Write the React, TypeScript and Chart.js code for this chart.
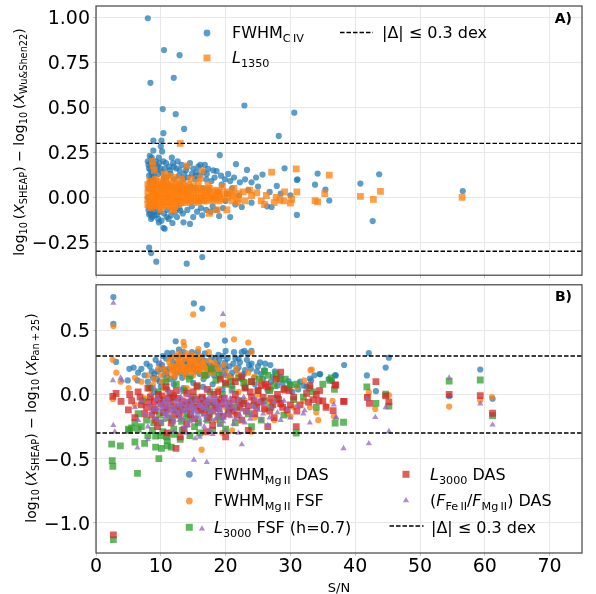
import { useEffect, useRef } from "react";
import { Chart, registerables } from "chart.js";

Chart.register(...registerables);

const FONT = '"DejaVu Sans", "Liberation Sans", sans-serif';

// ---------------- axes ----------------
const xTicks = [0, 10, 20, 30, 40, 50, 60, 70];
const xRange = [0, 75];
const yTicksA = [-0.25, 0, 0.25, 0.5, 0.75, 1.0];
const yRangeA = [-0.433, 1.063];
const yTicksB = [-1.0, -0.5, 0, 0.5];
const yRangeB = [-1.235, 0.855];
const threshold = 0.3;

// ---------------- panel A data ----------------
const fwhmCIV: [number, number][] = [
  [8.0, 0.995], [8.4, 0.636], [10.5, 0.818], [12.9, 0.79], [12.0, 0.664], [10.3, 0.49], [12.3, 0.462], [13.6, 0.38],
  [22.9, 0.51], [10.4, 0.356], [8.85, 0.315], [10.1, 0.315], [10.0, 0.283], [10.2, 0.255], [30.6, 0.47], [28.2, 0.341],
  [8.2, -0.28], [8.5, -0.31], [9.3, -0.358], [14.0, -0.369], [16.4, -0.332],
  [10.4, -0.17], [10.6, -0.175], [14.5, -0.148], [13.5, -0.139], [11.8, -0.143], [9.7, -0.14], [19.0, -0.104],
  [16.4, -0.1], [20.7, -0.11], [22.5, -0.054], [26.4, -0.05], [27.1, -0.054], [31.0, -0.098], [42.7, -0.132],
  [8.2, -0.095], [9.4, -0.095], [10.9, -0.11], [13.0, -0.074], [17.7, -0.08],
  [34.2, 0.132], [33.8, 0.07], [35.4, 0.043], [36.0, -0.018], [40.8, 0.076], [43.7, 0.128], [56.6, 0.035],
  [31.0, 0.096], [30.0, 0.011], [29.1, 0.161], [27.9, 0.063], [25.7, 0.126], [23.3, 0.152], [21.6, 0.184],
  [19.1, 0.234], [31.1, 0.1],
  [8.3, 0.23], [8.6, 0.22], [8.85, 0.26], [9.2, 0.2], [9.5, 0.17], [9.8, 0.19], [10.4, 0.2], [10.8, 0.19],
  [11.3, 0.17], [11.9, 0.19], [12.4, 0.16], [13.2, 0.18], [13.9, 0.15], [14.5, 0.19], [15.0, 0.16], [15.5, 0.14],
  [16.1, 0.18], [16.8, 0.18], [17.3, 0.158], [18.6, 0.145], [19.9, 0.1], [20.7, 0.09], [22.2, 0.083], [24.0, 0.083],
  [8.4, 0.15], [8.9, 0.12], [9.6, 0.13], [10.2, 0.14], [10.9, 0.11], [11.5, 0.13], [12.1, 0.1], [12.8, 0.12],
  [13.5, 0.1], [14.2, 0.11], [15.3, 0.1], [16.0, 0.12], [17.0, 0.1], [17.8, 0.09], [18.3, 0.11], [19.4, 0.07],
  [21.0, 0.05], [23.5, 0.04], [25.0, 0.06], [26.8, 0.03], [28.5, 0.02],
  [8.1, 0.05], [8.3, 0.08], [8.7, 0.06], [9.0, 0.09], [9.4, 0.07], [9.9, 0.06], [10.3, 0.08], [10.7, 0.05],
  [11.1, 0.07], [11.6, 0.06], [12.3, 0.05], [13.0, 0.07], [13.7, 0.04], [14.6, 0.06], [15.2, 0.05], [16.5, 0.05],
  [17.4, 0.04], [18.8, 0.03], [20.2, 0.02], [22.0, 0.01],
  [8.2, -0.05], [8.6, -0.07], [9.1, -0.06], [9.8, -0.08], [10.5, -0.09], [11.0, -0.07], [11.6, -0.1], [12.2, -0.08],
  [12.8, -0.06], [13.4, -0.09], [14.1, -0.07], [14.8, -0.05], [15.6, -0.08], [16.2, -0.06], [17.0, -0.07],
  [18.0, -0.05], [18.6, -0.07], [19.6, -0.06], [21.5, -0.04], [24.0, -0.03], [8.5, -0.12], [9.0, -0.1],
  [9.6, -0.12], [10.1, -0.13], [11.2, -0.12], [12.5, -0.11], [15.0, -0.11], [8.0, 0.0], [8.8, -0.02], [9.5, 0.01],
  [11.0, 0.0], [12.5, -0.01], [14.0, 0.02], [16.0, -0.02], [18.0, 0.0], [20.0, -0.02],
  [8.1, 0.18], [8.2, 0.12], [8.5, 0.1], [8.7, 0.17], [8.9, 0.03], [8.3, -0.02], [8.6, -0.04], [8.9, -0.08],
  [9.3, 0.15], [9.7, 0.22], [10.6, 0.16], [11.7, 0.22], [12.6, 0.2], [13.6, 0.13], [14.8, 0.13], [15.8, 0.17],
  [17.1, 0.13], [18.1, 0.15], [19.3, 0.12], [20.4, 0.13], [21.3, 0.11], [23.0, 0.1], [24.7, 0.11],
  [8.0, 0.2], [8.2, 0.16], [8.4, 0.19], [8.6, 0.13], [8.1, -0.07], [8.4, -0.09], [8.7, -0.11], [9.1, 0.18],
  [9.9, 0.16], [10.5, 0.11], [11.4, 0.15], [12.9, 0.15], [14.0, 0.17], [15.4, 0.12], [16.6, 0.14], [12.0, 0.17],
];

const l1350: [number, number][] = [
  [13.0, 0.3], [8.7, 0.2], [8.8, 0.175], [9.0, 0.15], [14.0, 0.175], [16.4, 0.147], [16.1, 0.106], [27.1, 0.14],
  [30.9, 0.158], [36.0, 0.123], [17.5, -0.09], [20.2, -0.07], [18.7, -0.07], [12.0, -0.07], [10.0, -0.07],
  [11.8, -0.07], [29.1, 0.03], [31.0, 0.03], [28.4, -0.015], [30.0, -0.033], [30.2, -0.012], [33.8, -0.018],
  [34.2, -0.026], [35.3, 0.02], [40.8, 0.005], [42.8, -0.012], [43.9, 0.033], [56.5, 0.0],
  [10.5, 0.13], [11.2, 0.12], [12.0, 0.11], [13.2, 0.1], [14.7, 0.1], [15.8, 0.08], [17.3, 0.07], [19.5, 0.06],
  [21.3, 0.05], [22.7, 0.03], [24.8, 0.025], [25.5, -0.02], [26.3, 0.01], [27.5, -0.03], [24.0, 0.01],
  [23.0, -0.02], [21.8, -0.03], [21.0, 0.02], [26.0, -0.04], [27.8, 0.0], [29.0, -0.02], [23.7, 0.04],
  [8.0, 0.07], [8.0, 0.03], [8.0, -0.01], [8.0, -0.04], [8.3, 0.09], [8.3, 0.05], [8.3, 0.0], [8.3, -0.05],
  [8.6, 0.06], [8.6, 0.02], [8.6, -0.02], [8.6, -0.06], [8.9, 0.08], [8.9, 0.04], [8.9, 0.0], [8.9, -0.03],
  [9.2, 0.1], [9.2, 0.05], [9.2, 0.01], [9.2, -0.04], [9.5, 0.07], [9.5, 0.03], [9.5, -0.01], [9.5, -0.05],
  [9.8, 0.09], [9.8, 0.04], [9.8, 0.0], [9.8, -0.03], [10.1, 0.06], [10.1, 0.02], [10.1, -0.02], [10.1, -0.05],
  [10.4, 0.08], [10.4, 0.04], [10.4, 0.0], [10.4, -0.04], [10.7, 0.1], [10.7, 0.05], [10.7, 0.01], [10.7, -0.03],
  [11.0, 0.07], [11.0, 0.03], [11.0, -0.01], [11.0, -0.05], [11.3, 0.06], [11.3, 0.02], [11.3, -0.03],
  [11.6, 0.08], [11.6, 0.04], [11.6, 0.0], [11.6, -0.04], [11.9, 0.05], [11.9, 0.01], [11.9, -0.03],
  [12.2, 0.07], [12.2, 0.03], [12.2, -0.01], [12.2, -0.05], [12.5, 0.06], [12.5, 0.02], [12.5, -0.02],
  [12.8, 0.08], [12.8, 0.04], [12.8, 0.0], [12.8, -0.04], [13.1, 0.05], [13.1, 0.01], [13.1, -0.03],
  [13.4, 0.07], [13.4, 0.03], [13.4, -0.01], [13.7, 0.06], [13.7, 0.02], [13.7, -0.03], [14.0, 0.05],
  [14.0, 0.01], [14.0, -0.02], [14.3, 0.07], [14.3, 0.03], [14.3, -0.01], [14.6, 0.04], [14.6, 0.0], [14.6, -0.03],
  [15.0, 0.06], [15.0, 0.02], [15.0, -0.02], [15.4, 0.05], [15.4, 0.01], [15.4, -0.02], [15.8, 0.04], [15.8, 0.0],
  [15.8, -0.03], [16.2, 0.05], [16.2, 0.02], [16.2, -0.01], [16.6, 0.04], [16.6, 0.0], [16.6, -0.02], [17.0, 0.03],
  [17.0, 0.01], [17.0, -0.02], [17.5, 0.05], [17.5, 0.02], [17.5, -0.01], [18.0, 0.03], [18.0, 0.0], [18.0, -0.02],
  [18.5, 0.04], [18.5, 0.01], [18.5, -0.01], [19.0, 0.03], [19.0, 0.0], [19.0, -0.02], [19.6, 0.02], [19.6, -0.01],
  [20.3, 0.03], [20.3, 0.0], [21.0, 0.01], [21.0, -0.02], [22.0, 0.02], [22.0, -0.01],
];

// ---------------- panel B data ----------------
const fwhmMgDAS: [number, number][] = [
  [2.68, 0.76], [2.68, 0.55], [15.1, 0.71], [16.4, 0.67], [12.3, 0.415], [17.1, 0.387], [19.9, 0.42], [15.7, 0.33],
  [14.8, 0.33], [11.0, 0.325], [11.8, 0.325], [3.1, 0.254], [5.15, 0.2], [5.8, 0.21], [4.9, 0.11], [6.4, 0.11],
  [21.3, 0.33], [22.5, 0.33], [22.9, 0.34], [19.9, 0.25], [38.3, 0.23], [34.5, 0.16], [33.7, 0.15], [33.0, 0.125],
  [36.9, 0.15], [35.9, 0.12], [36.4, 0.105], [32.0, 0.07], [29.7, 0.105], [28.4, 0.136], [27.6, 0.18], [26.9, 0.23],
  [26.1, 0.24], [42.1, 0.323], [45.2, 0.287], [44.7, 0.21], [41.8, 0.149], [43.2, 0.026], [37.0, 0.149],
  [34.6, 0.157], [59.3, 0.195], [61.2, -0.033], [54.5, -0.013],
  [7.0, 0.2], [7.5, 0.15], [8.0, 0.1], [8.3, 0.22], [8.8, 0.13], [9.2, 0.27], [9.5, 0.18], [9.8, 0.1], [10.2, 0.23],
  [10.5, 0.15], [10.8, 0.28], [11.2, 0.2], [11.5, 0.12], [11.9, 0.25], [12.3, 0.17], [12.7, 0.29], [13.0, 0.22],
  [13.3, 0.13], [13.7, 0.26], [14.0, 0.19], [14.4, 0.3], [14.7, 0.14], [15.0, 0.24], [15.4, 0.18], [15.8, 0.28],
  [16.2, 0.21], [16.6, 0.12], [17.0, 0.26], [17.4, 0.19], [17.8, 0.29], [18.2, 0.15], [18.6, 0.23], [19.0, 0.27],
  [19.4, 0.17], [19.8, 0.21], [20.3, 0.28], [20.8, 0.14], [21.2, 0.24], [21.7, 0.19], [22.2, 0.25], [22.8, 0.16],
  [23.3, 0.27], [23.9, 0.2], [24.4, 0.13], [25.0, 0.22], [25.5, 0.16], [26.0, 0.19], [27.0, 0.1], [28.0, 0.07],
  [29.0, 0.05], [30.3, 0.02], [31.2, 0.04], [8.5, 0.05], [9.0, 0.02], [10.0, 0.06], [11.0, 0.04], [12.0, 0.08],
  [13.5, 0.05], [15.0, 0.09], [16.5, 0.06], [18.0, 0.08], [19.5, 0.04], [21.0, 0.07], [23.0, 0.05], [24.5, 0.08],
  [26.5, 0.03], [12.8, 0.35], [13.5, 0.33], [16.8, 0.32], [18.9, 0.31], [20.0, 0.34], [24.0, 0.34], [23.4, 0.32],
  [30.0, 0.08], [31.5, 0.1], [32.5, 0.06], [33.2, 0.11], [9.7, 0.24], [10.6, 0.19], [12.5, 0.24], [14.2, 0.25],
  [16.0, 0.25], [17.6, 0.23], [18.4, 0.27], [20.6, 0.22], [22.0, 0.21], [25.3, 0.25], [6.5, 0.17], [7.8, 0.24],
  [8.6, 0.18], [9.4, 0.12], [10.3, 0.3], [10.9, 0.17], [11.7, 0.29], [12.1, 0.13], [13.1, 0.31], [13.9, 0.16],
  [14.5, 0.22], [15.2, 0.28], [15.6, 0.2], [16.4, 0.29], [17.2, 0.15], [18.0, 0.22], [18.8, 0.19], [19.6, 0.3],
  [20.1, 0.15], [21.5, 0.28], [22.5, 0.12], [23.6, 0.23], [24.8, 0.18], [25.8, 0.12], [27.3, 0.14], [28.8, 0.09],
  [9.0, 0.16], [10.0, 0.2], [11.0, 0.14], [12.0, 0.21], [13.0, 0.17], [14.0, 0.23], [15.0, 0.2], [16.0, 0.16],
  [17.0, 0.22], [18.0, 0.18], [19.0, 0.23], [20.0, 0.2], [21.0, 0.17], [22.0, 0.28], [23.0, 0.19], [24.0, 0.24],
];

const fwhmMgFSF: [number, number][] = [
  [2.68, 0.534], [15.0, 0.624], [19.6, 0.544], [2.57, 0.27], [3.14, 0.17], [2.6, -0.036], [5.04, 0.05],
  [16.3, -0.43], [21.3, 0.43], [23.5, 0.405], [24.0, 0.326], [13.5, 0.41], [13.6, 0.38], [15.8, 0.354],
  [12.8, 0.32], [14.0, 0.32], [33.3, 0.195], [32.1, 0.11], [33.1, 0.19], [61.1, -0.02], [59.3, -0.044],
  [54.5, -0.094], [43.1, -0.112], [42.1, 0.016], [41.8, -0.018], [45.2, -0.005], [36.7, -0.17], [3.8, 0.1],
  [10.0, 0.15], [10.5, 0.2], [11.0, 0.12], [11.3, 0.25], [11.7, 0.18], [12.0, 0.22], [12.3, 0.15], [12.6, 0.27],
  [12.9, 0.2], [13.2, 0.24], [13.5, 0.17], [13.8, 0.28], [14.1, 0.22], [14.4, 0.19], [14.7, 0.25], [15.0, 0.15],
  [15.3, 0.21], [15.6, 0.27], [15.9, 0.18], [16.2, 0.23], [16.6, 0.14], [17.0, 0.2], [17.5, 0.26], [18.0, 0.17],
  [18.6, 0.22], [19.2, 0.13], [20.0, 0.18], [21.0, 0.12], [22.0, 0.16], [23.0, 0.1], [24.5, 0.14], [26.0, 0.08],
  [9.0, 0.12], [8.0, 0.15], [7.0, 0.1], [6.0, 0.13], [12.2, 0.3], [14.9, 0.31], [16.0, 0.3], [17.4, 0.33],
  [12.4, 0.2], [13.0, 0.26], [13.7, 0.21], [14.3, 0.27], [14.8, 0.2], [15.5, 0.23], [16.4, 0.19], [11.5, 0.22],
  [9.5, -0.05], [11.0, -0.1], [13.0, -0.15], [15.0, -0.08], [17.0, -0.12], [18.5, -0.2], [20.0, -0.1],
  [21.5, -0.15], [23.0, -0.05], [24.5, -0.18], [26.0, -0.12], [27.5, -0.2], [28.5, -0.08], [29.5, -0.15],
  [30.5, -0.1], [32.0, -0.05], [34.0, -0.14], [35.5, -0.09], [22.0, 0.02], [25.0, 0.0], [27.0, 0.04], [29.0, 0.03],
  [31.0, 0.06], [14.0, 0.05], [19.0, 0.04], [12.0, 0.0], [16.0, -0.02], [10.5, 0.05], [8.5, 0.0], [7.5, -0.03],
  [6.0, -0.08], [24.0, -0.29], [21.0, -0.28], [19.5, -0.3], [34.3, -0.2], [36.5, -0.05], [28.0, 0.12],
  [10.2, 0.1], [10.8, 0.17], [11.4, 0.28], [11.9, 0.14], [12.7, 0.18], [13.3, 0.3], [13.9, 0.14], [14.6, 0.3],
  [15.1, 0.18], [15.7, 0.22], [16.3, 0.27], [16.9, 0.16], [17.7, 0.21], [18.3, 0.25], [19.0, 0.19], [19.7, 0.23],
  [20.5, 0.14], [21.6, 0.2], [23.5, 0.17], [25.5, 0.11], [8.8, 0.08], [9.6, 0.2], [27.0, -0.06], [30.0, -0.17],
  [33.0, -0.1], [12.5, 0.23], [13.6, 0.19], [14.5, 0.24], [15.4, 0.26], [16.7, 0.22],
  [11.8, 0.19], [12.9, 0.25], [13.4, 0.21], [14.2, 0.18], [14.9, 0.27], [15.8, 0.2], [16.6, 0.25], [17.2, 0.18],
];

const l3000FSF: [number, number][] = [
  [2.42, -0.387], [3.76, -0.4], [6.0, -0.37], [2.5, -0.515], [2.6, -0.56], [6.4, -0.615], [9.7, -0.5],
  [9.2, -0.41], [10.1, -0.42], [11.0, -0.4], [11.6, -0.41], [2.68, -1.13], [9.2, -0.325], [10.0, -0.32],
  [10.9, -0.33], [12.0, -0.31], [5.0, -0.27], [5.5, -0.26], [7.0, -0.25], [54.5, 0.105], [59.3, 0.113],
  [41.8, 0.059], [43.2, -0.069], [44.7, 0.002], [45.2, -0.09], [36.9, -0.223], [38.2, -0.216], [61.2, -0.164],
  [36.3, 0.13], [36.8, 0.04], [36.1, 0.11], [30.9, -0.3], [30.0, 0.075], [26.0, 0.18], [17.8, 0.2], [19.0, 0.15],
  [6.5, -0.15], [7.2, -0.05], [7.8, -0.2], [8.3, 0.05], [8.7, -0.28], [9.1, -0.12], [9.6, 0.02], [10.0, -0.22],
  [10.4, -0.05], [10.8, 0.1], [11.2, -0.18], [11.6, -0.02], [12.0, -0.27], [12.4, 0.08], [12.8, -0.1],
  [13.2, -0.21], [13.6, 0.03], [14.0, -0.15], [14.4, 0.12], [14.8, -0.06], [15.2, -0.25], [15.6, 0.06],
  [16.0, -0.13], [16.4, -0.03], [16.8, 0.15], [17.2, -0.2], [17.6, 0.02], [18.0, -0.08], [18.5, 0.11],
  [19.0, -0.17], [19.5, 0.0], [20.0, 0.08], [20.5, -0.12], [21.0, 0.04], [21.5, -0.22], [22.0, 0.13],
  [22.5, -0.05], [23.0, 0.06], [23.5, -0.15], [24.0, 0.1], [24.5, -0.08], [25.0, 0.03], [25.5, -0.2],
  [26.5, 0.15], [27.0, -0.1], [27.5, 0.07], [28.0, -0.03], [28.5, 0.12], [29.0, -0.16], [29.5, 0.05],
  [31.0, 0.08], [32.0, -0.02], [33.0, 0.05], [34.0, -0.1], [35.0, 0.08], [13.0, -0.35], [16.0, -0.3],
  [11.0, -0.36], [14.5, -0.32], [18.0, -0.28], [8.0, -0.32], [7.5, -0.38], [6.5, -0.27], [24.0, -0.25],
  [20.0, -0.27], [9.8, -0.16], [12.2, -0.12], [15.0, -0.02], [17.0, -0.1], [21.8, -0.1], [26.0, -0.05],
  [8.9, -0.22], [10.3, -0.29], [11.8, -0.2], [13.3, -0.28], [14.2, -0.18], [15.8, -0.22], [17.5, -0.15],
  [19.2, -0.22], [20.8, 0.1], [22.8, 0.09], [25.2, 0.12], [26.8, 0.03], [27.8, 0.16], [29.2, 0.12], [30.5, -0.04],
  [33.5, 0.02], [6.0, -0.22], [5.2, -0.28],
];

const l3000DAS: [number, number][] = [
  [2.6, -0.015], [3.1, 0.008], [3.86, -0.054], [2.68, -1.094], [12.35, -0.42], [43.2, 0.1], [54.5, 0.0],
  [59.3, -0.008], [61.2, -0.146], [41.9, -0.022], [42.2, -0.069], [44.7, -0.01], [45.2, -0.057], [38.2, -0.053],
  [37.0, 0.074], [36.6, -0.126], [36.9, 0.075], [28.5, 0.175], [33.0, 0.07], [34.4, -0.05], [38.3, -0.054],
  [30.9, -0.25], [13.0, -0.33],
  [5.0, -0.12], [5.5, -0.05], [6.0, -0.18], [6.5, 0.02], [7.0, -0.08], [7.5, -0.15], [8.0, 0.05], [8.4, -0.02],
  [8.8, -0.1], [9.2, -0.2], [9.6, 0.0], [10.0, -0.07], [10.4, -0.14], [10.8, 0.06], [11.2, -0.03], [11.6, -0.22],
  [12.0, -0.09], [12.4, 0.03], [12.8, -0.16], [13.2, -0.05], [13.6, -0.27], [14.0, 0.01], [14.4, -0.11],
  [14.8, -0.04], [15.2, -0.19], [15.6, 0.07], [16.0, -0.08], [16.4, -0.02], [16.8, -0.14], [17.2, 0.04],
  [17.6, -0.06], [18.0, -0.24], [18.4, -0.1], [18.8, 0.02], [19.2, -0.04], [19.6, -0.17], [20.0, 0.09],
  [20.5, -0.07], [21.0, -0.13], [21.5, 0.0], [22.0, -0.05], [22.5, -0.2], [23.0, 0.05], [23.5, -0.09],
  [24.0, -0.02], [24.5, -0.15], [25.0, 0.03], [25.5, -0.06], [26.0, -0.11], [26.5, 0.06], [27.0, -0.03],
  [27.5, -0.18], [28.0, 0.0], [28.5, -0.07], [29.0, 0.04], [29.5, -0.12], [30.5, -0.02], [31.5, -0.08],
  [32.5, 0.01], [33.5, -0.04], [34.5, 0.03], [35.5, -0.1], [21.5, 0.1], [22.5, 0.14], [19.2, 0.12], [24.0, 0.1],
  [9.5, -0.25], [11.0, -0.3], [14.0, -0.23], [17.0, -0.29], [23.5, -0.28], [26.5, -0.25], [20.0, -0.33],
  [5.2, 0.0], [6.8, -0.02], [9.0, -0.05], [11.5, -0.06], [13.8, -0.08], [16.2, -0.12], [18.6, -0.06],
  [21.2, -0.04], [25.8, -0.02], [28.8, -0.1],
  [8.2, -0.06], [9.0, -0.13], [9.8, -0.04], [10.6, -0.1], [11.4, 0.01], [12.2, -0.15], [12.6, -0.03], [13.4, -0.12],
  [14.2, -0.06], [15.0, 0.02], [15.4, -0.1], [16.6, -0.05], [17.4, -0.18], [18.2, 0.0], [19.0, -0.11],
  [19.8, -0.03], [20.8, -0.1], [21.8, -0.16], [22.8, -0.07], [23.8, 0.02], [24.8, -0.1], [25.5, 0.07],
  [27.3, -0.08], [29.8, 0.03], [31.0, -0.13], [32.8, -0.06], [34.0, 0.0], [35.0, -0.05], [26.2, 0.08], [27.8, 0.12],
  [7.8, -0.1], [8.6, -0.16], [10.2, -0.01], [11.0, -0.12], [12.0, -0.02], [13.0, -0.1], [14.6, -0.16],
  [15.8, -0.04], [17.0, -0.08], [18.0, -0.13], [19.4, -0.07], [20.4, -0.15], [22.2, -0.1], [23.2, -0.13],
  [24.4, -0.05], [26.8, -0.13], [28.2, -0.04], [30.0, -0.08],
];

const feMgDAS: [number, number][] = [
  [2.68, 0.713], [19.6, 0.626], [2.6, 0.11], [3.8, 0.13], [4.0, 0.11], [2.68, -0.24], [2.9, -0.29], [15.1, -0.51],
  [17.1, -0.528], [22.5, -0.39], [15.3, -0.343], [6.4, -0.415], [54.5, 0.13], [59.3, -0.072], [61.2, -0.236],
  [38.2, -0.42], [42.1, -0.382], [45.2, -0.287], [43.1, -0.177], [44.7, -0.1], [41.8, -0.03], [33.0, -0.22],
  [32.0, -0.15], [32.2, -0.125], [37.0, -0.18], [36.7, -0.08], [37.1, -0.18], [10.0, 0.25], [19.9, 0.16],
  [6.0, -0.1], [6.5, -0.2], [7.0, -0.05], [7.5, -0.15], [8.0, -0.25], [8.3, -0.08], [8.6, 0.0], [9.0, -0.18],
  [9.3, -0.1], [9.6, -0.03], [10.0, -0.22], [10.3, -0.13], [10.6, -0.06], [11.0, -0.16], [11.3, 0.02],
  [11.6, -0.09], [12.0, -0.2], [12.3, -0.12], [12.6, -0.04], [13.0, -0.17], [13.3, -0.08], [13.6, -0.26],
  [14.0, -0.13], [14.3, -0.01], [14.6, -0.1], [15.0, -0.19], [15.3, -0.06], [15.6, -0.14], [16.0, -0.22],
  [16.3, -0.03], [16.6, -0.11], [17.0, -0.17], [17.3, -0.07], [17.6, -0.28], [18.0, -0.12], [18.4, -0.02],
  [18.8, -0.15], [19.2, -0.09], [19.6, -0.21], [20.0, -0.05], [20.5, -0.14], [21.0, -0.1], [21.5, -0.19],
  [22.0, -0.04], [22.5, -0.12], [23.0, -0.22], [23.5, -0.08], [24.0, -0.16], [24.5, -0.03], [25.0, -0.12],
  [25.5, -0.2], [26.0, -0.07], [26.5, -0.24], [27.0, -0.1], [28.0, -0.14], [29.0, -0.05], [30.0, -0.18],
  [31.0, -0.09], [9.8, -0.07], [11.8, -0.14], [13.8, -0.05], [15.8, -0.09], [17.8, -0.13], [19.8, -0.02],
  [10.8, -0.1], [12.8, -0.09], [14.8, -0.15], [16.8, -0.06], [18.8, -0.08], [20.8, -0.17], [8.8, -0.12],
  [12.0, -0.29], [14.0, -0.3], [18.0, -0.31], [20.0, -0.28], [16.0, -0.33], [22.0, -0.3], [9.0, 0.05],
  [13.0, 0.03], [17.0, 0.04], [21.0, 0.02], [8.0, -0.35], [10.5, -0.2], [12.5, -0.15], [14.5, -0.21],
  [16.5, -0.16], [18.5, -0.19], [11.2, -0.05], [13.2, -0.11], [15.2, -0.11], [17.2, -0.04], [19.2, -0.13],
  [8.5, -0.15], [9.2, -0.04], [9.5, -0.2], [10.2, -0.09], [10.7, -0.17], [11.1, -0.03], [11.4, -0.12],
  [11.9, -0.22], [12.2, -0.06], [12.7, -0.14], [13.1, -0.02], [13.5, -0.19], [13.9, -0.1], [14.2, -0.24],
  [14.7, -0.07], [15.1, -0.13], [15.5, -0.03], [15.9, -0.18], [16.2, -0.09], [16.7, -0.25], [17.1, -0.12],
  [17.5, -0.02], [17.9, -0.2], [18.3, -0.07], [18.7, -0.11], [19.1, -0.24], [19.5, -0.06], [19.9, -0.16],
  [20.3, -0.1], [20.7, -0.03], [21.2, -0.23], [21.7, -0.08], [22.2, -0.16], [22.8, -0.02], [23.2, -0.13],
  [23.8, -0.19], [24.3, -0.09], [25.2, -0.05], [25.8, -0.15], [26.8, -0.18], [27.5, -0.06], [28.5, -0.2],
  [29.5, -0.12], [10.0, -0.11], [11.0, -0.08], [12.0, -0.11], [13.0, -0.07], [14.0, -0.08], [15.0, -0.12],
  [16.0, -0.07], [17.0, -0.09], [18.0, -0.05], [19.0, -0.12], [20.0, -0.09], [21.0, -0.06],
  [9.5, -0.12], [10.5, -0.05], [11.5, -0.18], [12.5, -0.08], [13.5, -0.13], [14.5, -0.04], [15.5, -0.17],
  [16.5, -0.1], [17.5, -0.14], [18.5, -0.05], [19.5, -0.18], [20.5, -0.07], [21.5, -0.12], [22.5, -0.2],
  [23.5, -0.14], [24.5, -0.1], [10.9, -0.14], [12.9, -0.2], [14.9, -0.09], [16.9, -0.2], [18.9, -0.17],
];

// ---------------- helpers ----------------
type Seg = { t: string; sub?: boolean; it?: boolean };
const toPts = (arr: [number, number][]) => arr.map(([x, y]) => ({ x, y }));

const C = {
  blue: "rgba(31,119,180,0.72)",
  orange: "rgba(255,127,14,0.75)",
  green: "rgba(44,160,44,0.75)",
  red: "rgba(214,39,40,0.75)",
  purple: "rgba(148,103,189,0.75)",
};

function segFont(s: Seg, size: number) {
  return `${s.it ? "italic " : ""}${s.sub ? size * 0.7 : size}px ${FONT}`;
}
function richWidth(ctx: CanvasRenderingContext2D, segs: Seg[], size: number) {
  let w = 0;
  for (const s of segs) {
    ctx.font = segFont(s, size);
    w += ctx.measureText(s.t).width;
  }
  return w;
}
function drawRich(ctx: CanvasRenderingContext2D, segs: Seg[], x: number, y: number, size: number, align = "left") {
  let cx = align === "center" ? x - richWidth(ctx, segs, size) / 2 : x;
  ctx.textBaseline = "alphabetic";
  ctx.textAlign = "left";
  ctx.fillStyle = "#000";
  for (const s of segs) {
    ctx.font = segFont(s, size);
    ctx.fillText(s.t, cx, s.sub ? y + size * 0.22 : y);
    cx += ctx.measureText(s.t).width;
  }
}
function marker(ctx: CanvasRenderingContext2D, style: string, x: number, y: number, color: string) {
  ctx.fillStyle = color;
  ctx.beginPath();
  if (style === "circle") ctx.arc(x, y, 3.4, 0, Math.PI * 2);
  else if (style === "rect") ctx.rect(x - 3.5, y - 3.5, 7, 7);
  else {
    const r = 3.6;
    ctx.moveTo(x, y - r);
    ctx.lineTo(x + r * 0.866, y + r * 0.5);
    ctx.lineTo(x - r * 0.866, y + r * 0.5);
    ctx.closePath();
  }
  ctx.fill();
}
function dash(ctx: CanvasRenderingContext2D, x1: number, x2: number, y: number) {
  ctx.save();
  ctx.strokeStyle = "#000";
  ctx.lineWidth = 1.3;
  ctx.setLineDash([4.5, 2]);
  ctx.beginPath();
  ctx.moveTo(x1, y);
  ctx.lineTo(x2, y);
  ctx.stroke();
  ctx.restore();
}
function yTitle(ctx: CanvasRenderingContext2D, segs: Seg[], x: number, yc: number) {
  ctx.save();
  ctx.translate(x, yc);
  ctx.rotate(-Math.PI / 2);
  drawRich(ctx, segs, 0, 0, 14, "center");
  ctx.restore();
}

const minus = (v: number, d: number) => v.toFixed(d).replace("-", "\u2212");

function hline(y: number) {
  return {
    type: "line",
    data: [{ x: xRange[0], y }, { x: xRange[1], y }],
    borderColor: "#000",
    borderWidth: 1.3,
    borderDash: [4.5, 2],
    pointRadius: 0,
    showLine: true,
    order: 0,
  };
}
function scat(arr: [number, number][], color: string, style: string, radius: number, order: number) {
  return {
    type: "scatter",
    data: toPts(arr),
    backgroundColor: color,
    borderWidth: 0,
    pointStyle: style,
    pointRadius: radius,
    pointHoverRadius: radius,
    order,
  };
}

const zeroPad = (s: any) => {
  s.paddingTop = 0;
  s.paddingBottom = 0;
  s.paddingLeft = 0;
  s.paddingRight = 0;
};

function baseOptions(yr: number[], yt: number[], yDec: number, showX: boolean, xH: number, padTop: number) {
  return {
    responsive: false,
    animation: false,
    events: [],
    layout: { padding: { left: 0, right: 14, top: padTop, bottom: 0 } },
    plugins: { legend: { display: false }, tooltip: { enabled: false } },
    scales: {
      x: {
        type: "linear",
        min: xRange[0],
        max: xRange[1],
        afterBuildTicks: (s: any) => {
          s.ticks = xTicks.map((v) => ({ value: v }));
        },
        afterFit: (s: any) => {
          s.height = xH;
          zeroPad(s);
        },
        ticks: {
          display: showX,
          autoSkip: false,
          maxRotation: 0,
          padding: 0,
          color: "#000",
          font: { family: FONT, size: 19 },
          callback: (v: any) => String(v),
        },
        grid: { color: "#e8e8e8", lineWidth: 1, tickColor: "#c8c8c8", tickLength: 3 },
        border: { display: false },
      },
      y: {
        type: "linear",
        min: yr[0],
        max: yr[1],
        afterBuildTicks: (s: any) => {
          s.ticks = yt.map((v) => ({ value: v }));
        },
        afterFit: (s: any) => {
          s.width = 96;
          zeroPad(s);
        },
        ticks: {
          autoSkip: false,
          padding: 3,
          labelOffset: 2,
          color: "#000",
          font: { family: FONT, size: 19 },
          callback: (v: any) => minus(Number(v), yDec),
        },
        grid: { color: "#e8e8e8", lineWidth: 1, tickColor: "#c8c8c8", tickLength: 3 },
        border: { display: false },
      },
    },
  };
}

function frame(ctx: CanvasRenderingContext2D, chart: any) {
  const a = chart.chartArea;
  ctx.strokeStyle = "#444";
  ctx.lineWidth = 1.2;
  ctx.setLineDash([]);
  ctx.strokeRect(a.left, a.top, a.right - a.left, a.bottom - a.top);
}

const yLabelA: Seg[] = [
  { t: "log" }, { t: "10", sub: true }, { t: "\u2009(" }, { t: "X", it: true }, { t: "SHEAP", sub: true }, { t: ")" },
  { t: " \u2212 " },
  { t: "log" }, { t: "10", sub: true }, { t: "\u2009(" }, { t: "X", it: true }, { t: "Wu&Shen22", sub: true }, { t: ")" },
];
const yLabelB: Seg[] = [
  { t: "log" }, { t: "10", sub: true }, { t: "\u2009(" }, { t: "X", it: true }, { t: "SHEAP", sub: true }, { t: ")" },
  { t: " \u2212 " },
  { t: "log" }, { t: "10", sub: true }, { t: "\u2009(" }, { t: "X", it: true }, { t: "Pan\u2009+\u200925", sub: true }, { t: ")" },
];
const deltaLabel: Seg[] = [{ t: "|\u0394| \u2264 0.3 dex" }];

const overlayA = {
  id: "overlayA",
  afterDraw(chart: any) {
    const ctx: CanvasRenderingContext2D = chart.ctx;
    ctx.save();
    frame(ctx, chart);
    yTitle(ctx, yLabelA, 24, 142);
    marker(ctx, "circle", 207, 33, C.blue);
    drawRich(ctx, [{ t: "FWHM" }, { t: "C\u2009IV", sub: true }], 232, 38, 16);
    marker(ctx, "rect", 207, 58, C.orange);
    drawRich(ctx, [{ t: "L", it: true }, { t: "1350", sub: true }], 232, 63, 16);
    dash(ctx, 340, 373, 32.5);
    drawRich(ctx, deltaLabel, 382, 38, 16);
    ctx.font = `bold 14px ${FONT}`;
    ctx.textAlign = "right";
    ctx.textBaseline = "alphabetic";
    ctx.fillStyle = "#000";
    ctx.fillText("A)", 572, 23.3);
    ctx.restore();
  },
};

const overlayB = {
  id: "overlayB",
  afterDraw(chart: any) {
    const ctx: CanvasRenderingContext2D = chart.ctx;
    ctx.save();
    frame(ctx, chart);
    yTitle(ctx, yLabelB, 35.5, 138);
    marker(ctx, "circle", 189.3, 194.3, C.blue);
    drawRich(ctx, [{ t: "FWHM" }, { t: "Mg\u2009II", sub: true }, { t: " DAS" }], 214, 200, 16);
    marker(ctx, "circle", 189.3, 221, C.orange);
    drawRich(ctx, [{ t: "FWHM" }, { t: "Mg\u2009II", sub: true }, { t: " FSF" }], 214, 226, 16);
    marker(ctx, "rect", 189.3, 247.3, C.green);
    marker(ctx, "tri", 202, 248.8, C.purple);
    drawRich(ctx, [{ t: "L", it: true }, { t: "3000", sub: true }, { t: " FSF (h=0.7)" }], 214, 253, 16);
    marker(ctx, "rect", 406, 194.3, C.red);
    drawRich(ctx, [{ t: "L", it: true }, { t: "3000", sub: true }, { t: " DAS" }], 430, 200, 16);
    marker(ctx, "tri", 406, 220.5, C.purple);
    drawRich(
      ctx,
      [{ t: "(" }, { t: "F", it: true }, { t: "Fe\u2009II", sub: true }, { t: "/" }, { t: "F", it: true }, { t: "Mg\u2009II", sub: true }, { t: ") DAS" }],
      430, 226, 16
    );
    dash(ctx, 389.5, 423.5, 246);
    drawRich(ctx, deltaLabel, 431, 253, 16);
    ctx.font = `bold 14px ${FONT}`;
    ctx.textAlign = "right";
    ctx.textBaseline = "alphabetic";
    ctx.fillStyle = "#000";
    ctx.fillText("B)", 572, 20.7);
    ctx.font = `13px ${FONT}`;
    ctx.textAlign = "center";
    ctx.fillText("S/N", 339, 311.5);
    ctx.restore();
  },
};

export default function App() {
  const refA = useRef<HTMLCanvasElement>(null);
  const refB = useRef<HTMLCanvasElement>(null);

  useEffect(() => {
    const chartA = new Chart(refA.current as HTMLCanvasElement, {
      type: "scatter",
      data: {
        datasets: [
          scat(fwhmCIV, C.blue, "circle", 3.1, 2),
          scat(l1350, C.orange, "rect", 4.8, 1),
          hline(threshold),
          hline(-threshold),
        ] as any,
      },
      options: baseOptions(yRangeA, yTicksA, 2, false, 3, 6) as any,
      plugins: [overlayA],
    });
    const chartB = new Chart(refB.current as HTMLCanvasElement, {
      type: "scatter",
      data: {
        datasets: [
          scat(fwhmMgDAS, C.blue, "circle", 3.1, 5),
          scat(fwhmMgFSF, C.orange, "circle", 3.1, 4),
          scat(l3000FSF, C.green, "rect", 4.8, 3),
          scat(l3000DAS, C.red, "rect", 4.8, 2),
          scat(feMgDAS, C.purple, "triangle", 3.6, 1),
          hline(threshold),
          hline(-threshold),
        ] as any,
      },
      options: baseOptions(yRangeB, yTicksB, 1, true, 41, 3) as any,
      plugins: [overlayB],
    });
    return () => {
      chartA.destroy();
      chartB.destroy();
    };
  }, []);

  return (
    <div style={{ position: "fixed", left: 0, top: 0, width: 596, height: 594, background: "#fff" }}>
      <canvas ref={refA} width={596} height={280} style={{ position: "absolute", left: 0, top: 0, width: 596, height: 280 }} />
      <canvas ref={refB} width={596} height={314} style={{ position: "absolute", left: 0, top: 280, width: 596, height: 314 }} />
    </div>
  );
}
